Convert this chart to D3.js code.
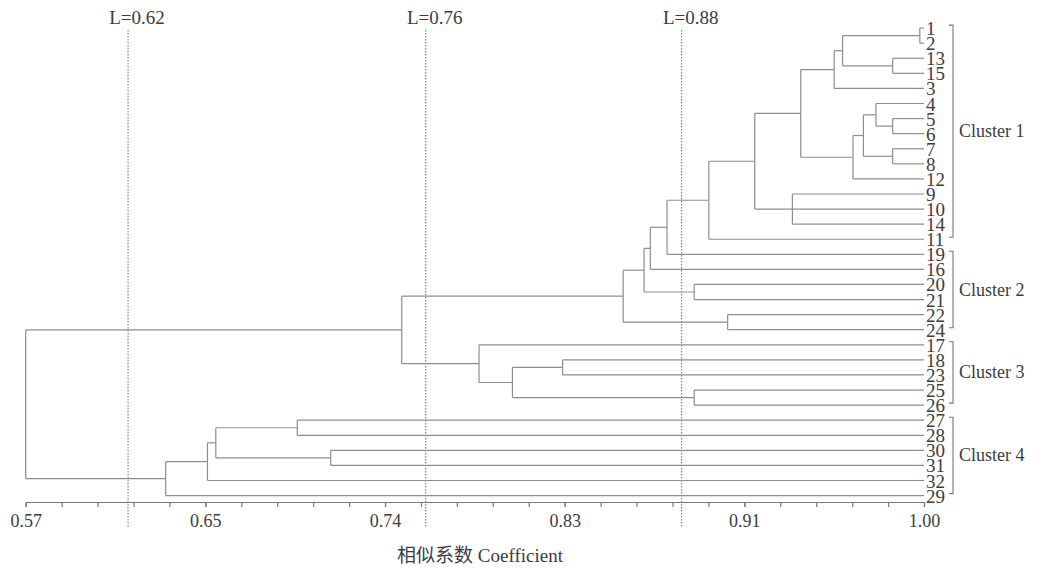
<!DOCTYPE html>
<html>
<head>
<meta charset="utf-8">
<script src="https://cdn.jsdelivr.net/npm/d3@7"></script>
<style>
  body { margin: 0; background: #fff; }
  svg { display: block; }
  svg text { font-family: "Liberation Serif", "Times New Roman", "Noto Sans CJK SC", serif; fill: #3c3c3c; }
  .link { fill: none; stroke: #8e8e8e; stroke-width: 1.2; }
  .cut { stroke: #6a6a6a; stroke-width: 1; stroke-dasharray: 1.5,1.5; }
  .axis path, .axis line { stroke: #7a7a7a; stroke-width: 1.2; }
  .axis text { font-size: 18px; }
</style>
</head>
<body>
<div id="chart"></div>
<script>
// leaves top to bottom
const leafOrder = ['1','2','13','15','3','4','5','6','7','8','12','9','10','14','11',
  '19','16','20','21','22','24','17','18','23','25','26','27','28','30','31','32','29'];

// merges: node "m<i>" joins the listed children at mergeSim[i]
const merges = [
  ['1','2'], ['13','15'], ['m0','m1'], ['m2','3'],
  ['5','6'], ['4','m4'], ['7','8'], ['m5','m6'], ['m7','12'],
  ['m3','m8'], ['9','10','14'], ['m9','m10'], ['m11','11'],
  ['m12','19'], ['m13','16'], ['20','21'], ['m14','m15'],
  ['22','24'], ['m16','m17'],
  ['18','23'], ['25','26'], ['m19','m20'], ['17','m21'],
  ['m18','m22'],
  ['27','28'], ['30','31'], ['m24','m25'], ['m26','32'], ['m27','29'],
  ['m23','m28']
];
const mergeSim = [
  0.998, 0.985, 0.961, 0.957,
  0.985, 0.977, 0.985, 0.971, 0.966,
  0.941, 0.937, 0.919, 0.897,
  0.877, 0.869, 0.890, 0.866,
  0.906, 0.856,
  0.827, 0.890, 0.803, 0.787,
  0.750,
  0.700, 0.716, 0.661, 0.657, 0.637,
  0.570
];

const tickLabels = ['0.57', '0.65', '0.74', '0.83', '0.91', '1.00'];
const cutValues = [0.619, 0.7615, 0.884];
const cutLabels = ['L=0.62', 'L=0.76', 'L=0.88'];

const clusterNames = ['Cluster 1', 'Cluster 2', 'Cluster 3', 'Cluster 4'];
const clusterFirst = ['1', '19', '17', '27'];
const clusterLast = ['11', '24', '26', '29'];

const width = 1037, height = 568;
const svg = d3.select('#chart').append('svg')
  .attr('width', width).attr('height', height);

const x = d3.scaleLinear().domain([0.57, 1.00]).range([25.7, 924]);
const y = d3.scalePoint().domain(leafOrder).range([28.1, 495.6]);

// build tree from merge list
const byName = {};
merges.forEach((kids, i) => {
  byName['m' + i] = {
    name: 'm' + i,
    sim: mergeSim[i],
    children: kids.map(k => byName[k] || { name: k, sim: 1.0 })
  };
});
const root = d3.hierarchy(byName['m' + (merges.length - 1)]);
root.eachAfter(n => {
  n.py = n.children ? d3.mean(n.children, c => c.py) : y(n.data.name);
  n.px = x(n.data.sim);
});

// cut lines
const cuts = svg.append('g');
cuts.selectAll('line')
  .data(cutValues)
  .enter().append('line')
  .attr('class', 'cut')
  .attr('x1', d => x(d)).attr('x2', d => x(d))
  .attr('y1', 30).attr('y2', 528);
cuts.selectAll('text')
  .data(cutValues)
  .enter().append('text')
  .attr('x', d => x(d) + 9)
  .attr('y', 24)
  .attr('text-anchor', 'middle')
  .style('font-size', '19px')
  .text((d, i) => cutLabels[i]);

// dendrogram
const links = svg.append('g');
root.each(n => {
  if (!n.children) return;
  links.append('line').attr('class', 'link')
    .attr('x1', n.px).attr('x2', n.px)
    .attr('y1', d3.min(n.children, c => c.py))
    .attr('y2', d3.max(n.children, c => c.py));
  n.children.forEach(c => {
    links.append('line').attr('class', 'link')
      .attr('x1', n.px).attr('x2', c.px)
      .attr('y1', c.py).attr('y2', c.py);
  });
});

// leaf labels
svg.append('g').selectAll('text')
  .data(leafOrder)
  .enter().append('text')
  .attr('x', x(1.00) + 2)
  .attr('y', d => y(d) + 7)
  .style('font-size', '19px')
  .text(d => d);

// cluster brackets
const bx = 953;
const br = svg.append('g');
clusterNames.forEach((name, i) => {
  const y0 = y(clusterFirst[i]) - 3, y1 = y(clusterLast[i]) - 2;
  br.append('path')
    .attr('d', `M${bx - 4},${y0}H${bx}V${y1}H${bx - 4}`)
    .attr('fill', 'none')
    .attr('stroke', '#777')
    .attr('stroke-width', 1.1);
  br.append('text')
    .attr('x', bx + 6)
    .attr('y', (y0 + y1) / 2 + 6)
    .style('font-size', '18px')
    .text(name);
});

// axis
const majorTicks = d3.range(tickLabels.length).map(i => 0.57 + i * (1.00 - 0.57) / (tickLabels.length - 1));
const minorTicks = d3.range(26).map(i => 0.57 + i * (1.00 - 0.57) / 25);

const axisY = 502;
svg.append('g')
  .attr('class', 'axis')
  .attr('transform', `translate(0,${axisY})`)
  .call(d3.axisBottom(x).tickValues(minorTicks).tickSize(5).tickSizeOuter(0).tickFormat(''));
const ax = svg.append('g')
  .attr('class', 'axis')
  .attr('transform', `translate(0,${axisY})`)
  .call(d3.axisBottom(x).tickValues(majorTicks).tickSize(5).tickSizeOuter(0)
    .tickFormat((d, i) => tickLabels[i]));
ax.select('.domain').remove();
ax.selectAll('text').attr('dy', '0.95em');

svg.append('text')
  .attr('x', 480)
  .attr('y', 562)
  .attr('text-anchor', 'middle')
  .style('font-size', '19px')
  .text('相似系数 Coefficient');
</script>
</body>
</html>
